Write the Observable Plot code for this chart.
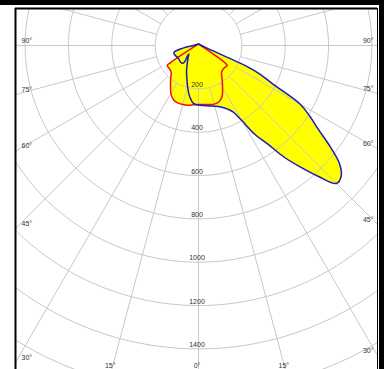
<!DOCTYPE html>
<html><head><meta charset="utf-8">
<script src="https://cdn.jsdelivr.net/npm/d3@7"></script>
<script src="https://cdn.jsdelivr.net/npm/@observablehq/plot@0.6"></script>
<style>
html,body{margin:0;padding:0;background:#fff;}
#wrap{position:relative;width:387px;height:369px;overflow:hidden;}
#bar{position:absolute;left:0;top:0;width:384px;height:369px;border-top:5px solid #000;border-right:5px solid #000;box-sizing:border-box;}
#chart{position:absolute;left:0;top:0;}
</style></head><body>
<div id="wrap"><div id="bar"></div><div id="chart"></div></div>
<script>
// Red curve: C0 side (right) and C180 side (left). gamma from nadir (deg), intensity (cd)
const redC0Angles = [0, 10, 15, 20, 25, 30, 35, 40, 45, 50, 55, 56.5];
const redC0Values = [272, 276, 280, 276, 258, 222, 190, 165, 158, 158, 162, 150];
const redC180Angles = [5, 10, 15, 20, 25, 30, 35, 40, 45, 50, 55, 57.5, 58.5];
const redC180Values = [275, 280, 282, 282, 275, 255, 225, 200, 178, 172, 172, 171, 153];
// apex of both curves (gamma 180)
const apexValue = 7;
// Blue curve: C90 side (right), from nadir up
const blueC90Angles = [0, 5, 10, 15, 20, 25, 27.5, 30, 32.5, 35, 37.5, 40, 42.5, 45, 47.5, 50, 52.5, 55, 57.5, 60, 62.5, 65, 66.5, 67.5, 70, 75];
const blueC90Values = [275, 278, 283, 290, 302, 325, 345, 400, 490, 553, 650, 733, 820, 900, 893, 850, 765, 675, 610, 542, 391, 314, 250, 150, 70, 30];
// Blue curve: C270 side (left), in drawing order from nadir
const blueC270Angles = [5, 10, 15, 20, 25, 30, 35, 40, 45, 49, 46, 41, 41, 47, 56, 73.5, 81, 90];
const blueC270Values = [268, 238, 195, 158, 130, 106, 88, 75, 65, 59, 73, 92, 108, 113, 110, 119, 69, 22];
// Grid
const ringValues = [200, 400, 600, 800, 1000, 1200, 1400, 1600];
const ringLabels = [200, 400, 600, 800, 1000, 1200, 1400];
const sideAngleLabels = [90, 75, 60, 45, 30];
const bottomAngleLabels = [-15, 0, 15];
const radialStep = 15;

// frame extents in cd units
const X0 = -844.5, X1 = 826, YT = -170.7, YB = 1495;
const rad = a => a * Math.PI / 180;
const pt = (a, r) => ({x: r * Math.sin(rad(a)), y: r * Math.cos(rad(a))});

const redPts = [pt(180, apexValue)];
for (let i = redC180Angles.length - 1; i >= 0; i--) redPts.push(pt(-redC180Angles[i], redC180Values[i]));
for (let i = 0; i < redC0Angles.length; i++) redPts.push(pt(redC0Angles[i], redC0Values[i]));
redPts.push(pt(180, apexValue));

const bluePts = [pt(180, apexValue)];
for (let i = blueC90Angles.length - 1; i >= 0; i--) bluePts.push(pt(blueC90Angles[i], blueC90Values[i]));
for (let i = 0; i < blueC270Angles.length; i++) bluePts.push(pt(-blueC270Angles[i], blueC270Values[i]));
bluePts.push(pt(180, apexValue));

const ringPts = [];
for (const r of ringValues) for (let a = 0; a <= 360; a += 2) ringPts.push({...pt(a, r), r});
const radials = d3.range(0, 360, radialStep).map(a => {
  const p1 = pt(a, 200), p2 = pt(a, 2200);
  return {x1: p1.x, y1: p1.y, x2: p2.x, y2: p2.y};
});
const leftLabels = sideAngleLabels.map(a => ({x: X0, y: a === 90 ? 0 : -X0 / Math.tan(rad(a)), t: a + "°"}));
const rightLabels = sideAngleLabels.map(a => ({x: X1, y: a === 90 ? 0 : X1 / Math.tan(rad(a)), t: a + "°"}));
const bottomLabels = bottomAngleLabels.map(a => ({x: YB * Math.tan(rad(a)), y: YB, t: Math.abs(a) + "°"}));

const grid = "#c8c8c8";
const txt = "#333";
const chart = Plot.plot({
  width: 387, height: 369,
  marginLeft: 15, marginRight: 10, marginTop: 8, marginBottom: 0,
  x: {domain: [X0, X1], axis: null},
  y: {domain: [YT, YB], reverse: true, axis: null},
  style: {background: "transparent", fontFamily: "'Liberation Sans', Arial, sans-serif", fontSize: "7px"},
  marks: [
    Plot.line(redPts, {x: "x", y: "y", fill: "#ffff00", stroke: null, curve: "catmull-rom", clip: true}),
    Plot.line(bluePts, {x: "x", y: "y", fill: "#ffff00", stroke: null, curve: "catmull-rom", clip: true}),
    Plot.line(ringPts, {x: "x", y: "y", z: "r", stroke: grid, strokeWidth: 1, clip: true}),
    Plot.link(radials, {x1: "x1", y1: "y1", x2: "x2", y2: "y2", stroke: grid, strokeWidth: 1, clip: true}),
    Plot.line(redPts, {x: "x", y: "y", stroke: "#ee1111", strokeWidth: 1.5, curve: "catmull-rom", clip: true}),
    Plot.line(bluePts, {x: "x", y: "y", stroke: "#1c1cb0", strokeWidth: 1.5, curve: "catmull-rom", clip: true}),
    Plot.text(ringLabels, {x: 0, y: d => d, text: d => String(d), dy: -4, dx: -1.5, fill: txt, fontSize: 7}),
    Plot.text(leftLabels, {x: "x", y: "y", text: "t", textAnchor: "start", dx: 6, dy: -5, fill: txt, fontSize: 7}),
    Plot.text(rightLabels, {x: "x", y: "y", text: "t", textAnchor: "end", dx: -4, dy: -5, fill: txt, fontSize: 7}),
    Plot.text(bottomLabels, {x: "x", y: "y", text: "t", dx: -1.5, dy: -4, fill: txt, fontSize: 7}),
    Plot.ruleX([X0], {stroke: "#000", strokeWidth: 2}),
    Plot.ruleY([YT], {stroke: "#000", strokeWidth: 2}),
    Plot.ruleX([X1], {stroke: "#000", strokeWidth: 1})
  ]
});
document.getElementById("chart").appendChild(chart);
</script></body></html>
